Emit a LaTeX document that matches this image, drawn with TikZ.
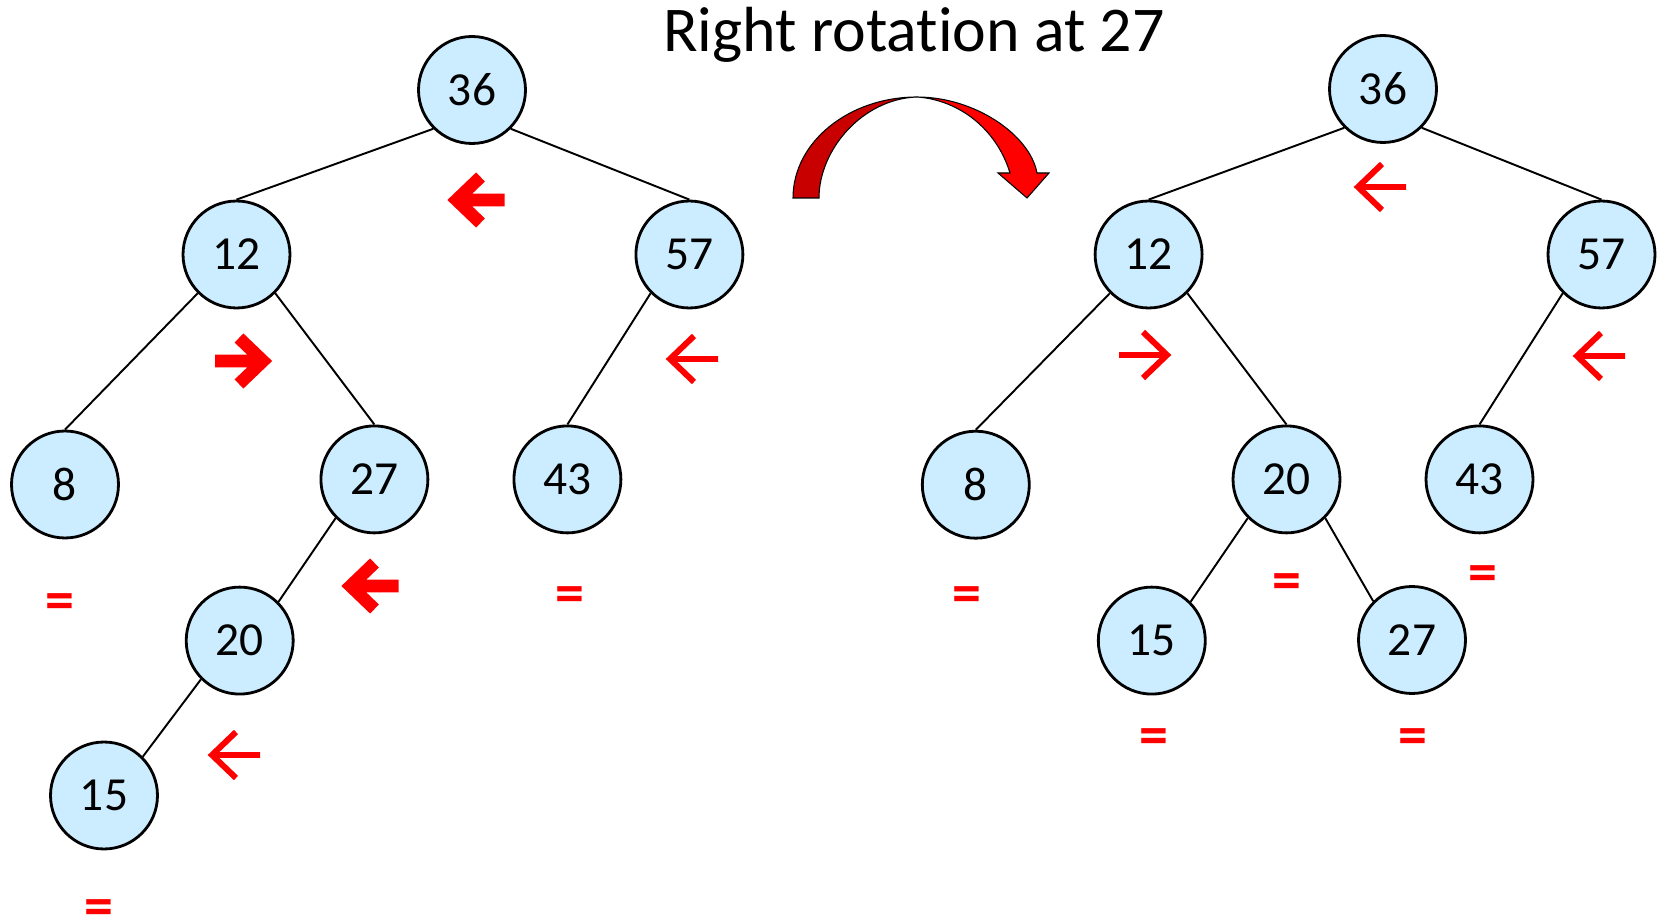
\documentclass[tikz,border=0pt]{standalone}
\usepackage{fontspec}
\setmainfont{Carlito}[Ligatures=NoCommon]
\definecolor{nodeblue}{RGB}{204,236,255}
\definecolor{shadered}{RGB}{200,0,0}
\begin{document}
\begin{tikzpicture}[x=0.02cm, y=-0.02cm,
    treenode/.style={circle, draw, line width=1.6pt, fill=nodeblue, minimum size=2.14cm,
      inner sep=0pt, font=\fontsize{27}{32}\selectfont},
    link/.style={line width=1.1pt},
    flag/.pic={\draw[pic actions] (24,-23) -- (0,0) -- (24,23) (0,0) -- (48,0);},
    thinarr/.style={red, line width=3.4pt},
    boldarr/.style={red, line width=7.2pt},
    balance/.style={text=red, inner sep=0pt, font=\fontsize{33}{38}\selectfont\bfseries}]
    \useasboundingbox (0,0) rectangle (1663,918);

    \node[anchor=base, font=\fontsize{36.3}{42}\selectfont] (title) at (914,51.7) {Right rotation at 27};

    \node[treenode] (l36) at (472,90) {36};
    \node[treenode] (l12) at (236.5,254.5) {12};
    \node[treenode] (l57) at (689.4,254.5) {57};
    \node[treenode] (l8)  at (65,484.5) {8};
    \node[treenode] (l27) at (374.4,479.4) {27};
    \node[treenode] (l43) at (567.4,479.4) {43};
    \node[treenode] (l20) at (239.7,640.6) {20};
    \node[treenode] (l15) at (104,795.5) {15};

    \draw[link] (l36.south west) -- (l12.north);
    \draw[link] (l36.south east) -- (l57.north);
    \draw[link] (l12.south west) -- (l8.north);
    \draw[link] (l12.south east) -- (l27.north);
    \draw[link] (l57.south west) -- (l43.north);
    \draw[link] (l27.south west) -- (l20.north east);
    \draw[link] (l20.south west) -- (l15.north east);

    \pic[boldarr] at (456.5,200) {flag};
    \pic[boldarr, xscale=-1] at (263,361) {flag};
    \pic[thinarr] at (670,359) {flag};
    \pic[boldarr] at (350.5,586) {flag};
    \pic[thinarr] at (212,755) {flag};

    \node[balance] (e8)  at (60,607) {=};
    \node[balance] (e43) at (570,600) {=};
    \node[balance] (e15) at (99,913) {=};

    \draw[line width=0.6pt, fill=shadered]
      (793,198) .. controls (793,142) and (849,97) .. (917,97)
      .. controls (862,99) and (819,150) .. (819,198) -- cycle;
    \draw[line width=0.6pt, fill=red]
      (917,97) .. controls (975,97) and (1030,135) .. (1037,173)
      -- (1049,173) -- (1027,198) -- (998,173) -- (1010,173)
      .. controls (997,130) and (960,100) .. (917,97) -- cycle;

    \node[treenode] (r36) at (1383,89) {36};
    \node[treenode] (r12) at (1148.6,254.5) {12};
    \node[treenode] (r57) at (1601.5,254.5) {57};
    \node[treenode] (r8)  at (975.8,484.7) {8};
    \node[treenode] (r20) at (1286.5,479.4) {20};
    \node[treenode] (r43) at (1479.5,479.4) {43};
    \node[treenode] (r15) at (1151.8,640.6) {15};
    \node[treenode] (r27) at (1412,640) {27};

    \draw[link] (r36.south west) -- (r12.north);
    \draw[link] (r36.south east) -- (r57.north);
    \draw[link] (r12.south west) -- (r8.north);
    \draw[link] (r12.south east) -- (r20.north);
    \draw[link] (r57.south west) -- (r43.north);
    \draw[link] (r20.south west) -- (r15.north east);
    \draw[link] (r20.south east) -- (r27.north west);

    \pic[thinarr] at (1358,187) {flag};
    \pic[thinarr, xscale=-1] at (1167,355) {flag};
    \pic[thinarr] at (1577,356) {flag};

    \node[balance] (f8)  at (967,600) {=};
    \node[balance] (f20) at (1287,587) {=};
    \node[balance] (f43) at (1483,579) {=};
    \node[balance] (f15) at (1154,742) {=};
    \node[balance] (f27) at (1413,742) {=};
\end{tikzpicture}
\end{document}
